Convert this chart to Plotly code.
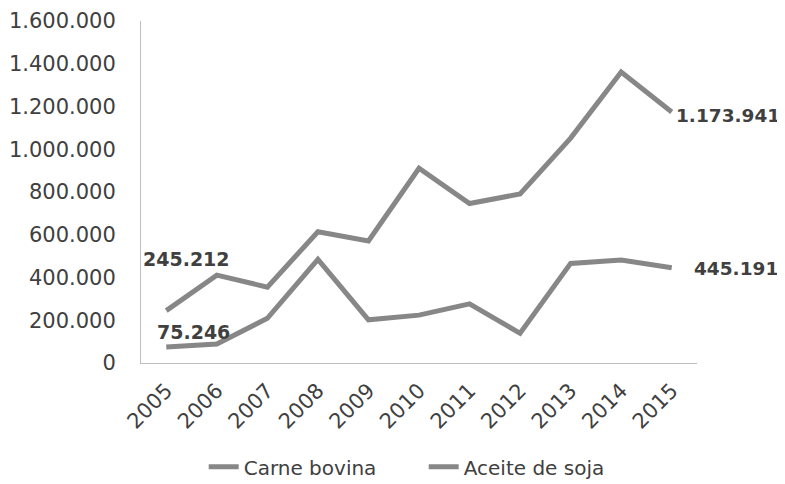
import plotly.graph_objects as go

years = ["2005", "2006", "2007", "2008", "2009", "2010", "2011", "2012", "2013", "2014", "2015"]
carne_bovina = [245212, 411000, 355000, 614000, 571000, 911000, 746000, 791000, 1052000, 1361000, 1173941]
aceite_soja = [75246, 89000, 209000, 485000, 202000, 224000, 277000, 139000, 466000, 482000, 445191]

gray = "#878787"
txt = "#404040"
fnt = "DejaVu Sans"

fig = go.Figure()
fig.add_trace(go.Scatter(x=years, y=carne_bovina, name="Carne bovina", mode="lines",
                         line=dict(color=gray, width=5)))
fig.add_trace(go.Scatter(x=years, y=aceite_soja, name="Aceite de soja", mode="lines",
                         line=dict(color=gray, width=5)))

# data labels on first and last points (category index positions)
def lab(i, y, xs, ys, size=19):
    fig.add_annotation(x=i, y=y, text="<b>" + f"{y:,}".replace(",", ".") + "</b>",
                       showarrow=False, xshift=xs, yshift=ys, xanchor="left",
                       font=dict(family=fnt, size=size, color=txt))

last = len(years) - 1
lab(0, carne_bovina[0], -25, 52)
lab(0, aceite_soja[0], -11, 15)
lab(last, carne_bovina[last], 2, -3, 18.5)
lab(last, aceite_soja[last], 20, -1, 18.5)

# page body adds an 8px offset, so the figure is 8px smaller
fig.update_layout(
    width=777, height=476,
    margin=dict(l=133, r=88, t=13, b=121),
    plot_bgcolor="white", paper_bgcolor="white",
    separators=",.",
    font=dict(family=fnt, size=21, color=txt),
    showlegend=True,
    legend=dict(orientation="h", xref="container", yref="container", x=0.535, y=0.036,
                xanchor="center", yanchor="middle", font=dict(size=20, color=txt),
                entrywidth=175),
    xaxis=dict(type="category", range=[-0.5, 10.5], tickangle=-45, showline=True,
               linecolor="#bfbfbf", linewidth=1, showgrid=False, ticks="", automargin=False,
               ticklabelstandoff=6),
    yaxis=dict(range=[0, 1600000], dtick=200000, tickformat=",d", showline=True,
               linecolor="#bfbfbf", linewidth=1, showgrid=False, ticks="", zeroline=False,
               automargin=False, ticklabelstandoff=20),
)

fig.write_html("out.html")
